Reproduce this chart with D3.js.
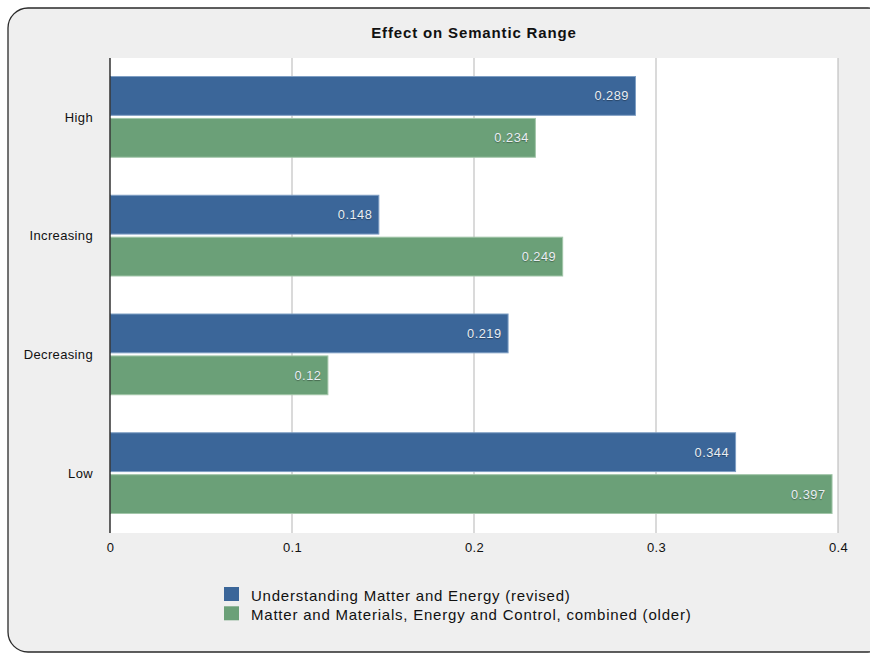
<!DOCTYPE html>
<html>
<head>
<meta charset="utf-8">
<script src="https://cdn.jsdelivr.net/npm/d3@7"></script>
<style>
  html, body { margin: 0; padding: 0; background: #ffffff; }
  svg { display: block; font-family: "Liberation Sans", Arial, Helvetica, sans-serif; }
</style>
</head>
<body>
<svg id="chart" width="870" height="654"></svg>
<script>
// Chart data
const categories = ["High", "Increasing", "Decreasing", "Low"];
const seriesNames = [
  "Understanding Matter and Energy (revised)",
  "Matter and Materials, Energy and Control, combined (older)"
];
const revisedValues = [0.289, 0.148, 0.219, 0.344];
const olderValues = [0.234, 0.249, 0.12, 0.397];
const tickValues = [0, 0.1, 0.2, 0.3, 0.4];
const tickLabels = ["0", "0.1", "0.2", "0.3", "0.4"];
const title = "Effect on Semantic Range";

const colors = ["#3b6699", "#6ba078"];
const strokes = ["#7f9fc4", "#a2c6a9"];

const svg = d3.select("#chart");

// Panel background
svg.append("rect")
  .attr("x", 8).attr("y", 8)
  .attr("width", 880).attr("height", 644)
  .attr("rx", 20).attr("ry", 20)
  .attr("fill", "#efefef")
  .attr("stroke", "#2a2a2a")
  .attr("stroke-width", 1.3);

// Title
svg.append("text")
  .attr("x", 474).attr("y", 38)
  .attr("text-anchor", "middle")
  .attr("font-size", 15)
  .attr("font-weight", "bold")
  .attr("letter-spacing", 0.85)
  .attr("fill", "#111")
  .text(title);

const plot = { left: 110, right: 838, top: 58, bottom: 533 };

const x = d3.scaleLinear().domain([0, 0.4]).range([plot.left, plot.right]);
const y = d3.scaleBand().domain(categories).range([plot.top, plot.bottom]);
const inner = d3.scaleBand().domain([0, 1]).range([18, y.bandwidth() - 19]).paddingInner(0.05);

// Plot area
svg.append("rect")
  .attr("x", plot.left).attr("y", plot.top)
  .attr("width", plot.right - plot.left).attr("height", plot.bottom - plot.top)
  .attr("fill", "#ffffff");

// Vertical grid lines
svg.append("g")
  .selectAll("line")
  .data(tickValues.slice(1))
  .join("line")
  .attr("x1", d => x(d)).attr("x2", d => x(d))
  .attr("y1", plot.top).attr("y2", plot.bottom)
  .attr("stroke", "#b5b5b5")
  .attr("stroke-width", 1);

// Bars
const series = [revisedValues, olderValues];
const groups = svg.append("g")
  .selectAll("g")
  .data(categories)
  .join("g")
  .attr("transform", d => `translate(0,${y(d)})`);

groups.each(function (cat, ci) {
  const g = d3.select(this);
  series.forEach((vals, si) => {
    const v = vals[ci];
    g.append("rect")
      .attr("x", x(0) + 0.5)
      .attr("y", inner(si) + 0.5)
      .attr("width", x(v) - x(0) - 1)
      .attr("height", inner.bandwidth() - 1)
      .attr("fill", colors[si])
      .attr("stroke", strokes[si])
      .attr("stroke-width", 1);
    g.append("text")
      .attr("x", x(v) - 7)
      .attr("y", inner(si) + inner.bandwidth() / 2)
      .attr("dy", "0.35em")
      .attr("text-anchor", "end")
      .attr("font-size", 12.8)
      .attr("letter-spacing", 0.5)
      .attr("fill", "#e9eef3")
      .style("text-shadow", "0 1px 1px rgba(0,0,0,0.35)")
      .text(v);
  });
});

// Zero axis line
svg.append("line")
  .attr("x1", x(0)).attr("x2", x(0))
  .attr("y1", plot.top).attr("y2", plot.bottom)
  .attr("stroke", "#111")
  .attr("stroke-width", 1.3);

// Category labels
const yAxis = d3.axisLeft(y).tickSize(0).tickPadding(17);
const yg = svg.append("g").attr("transform", `translate(${plot.left},0)`).call(yAxis);
yg.select(".domain").remove();
yg.selectAll("text")
  .attr("font-size", 13)
  .attr("letter-spacing", 0.35)
  .attr("fill", "#111")
  .attr("font-family", null);

// Value axis labels
const xAxis = d3.axisBottom(x).tickValues(tickValues).tickFormat((d, i) => tickLabels[i]).tickSize(0).tickPadding(10);
const xg = svg.append("g").attr("transform", `translate(0,${plot.bottom})`).call(xAxis);
xg.select(".domain").remove();
xg.selectAll("text")
  .attr("font-size", 13)
  .attr("letter-spacing", 0.3)
  .attr("fill", "#111")
  .attr("font-family", null);

// Legend
const legend = svg.append("g").attr("transform", "translate(224,587)");
seriesNames.forEach((name, i) => {
  legend.append("rect")
    .attr("x", 0).attr("y", i * 19.3)
    .attr("width", 15).attr("height", 14)
    .attr("fill", colors[i]);
  legend.append("text")
    .attr("x", 27).attr("y", i * 19.3 + 8.5)
    .attr("dy", "0.35em")
    .attr("font-size", 15)
    .attr("letter-spacing", 0.78)
    .attr("fill", "#111")
    .text(name);
});
</script>
</body>
</html>
